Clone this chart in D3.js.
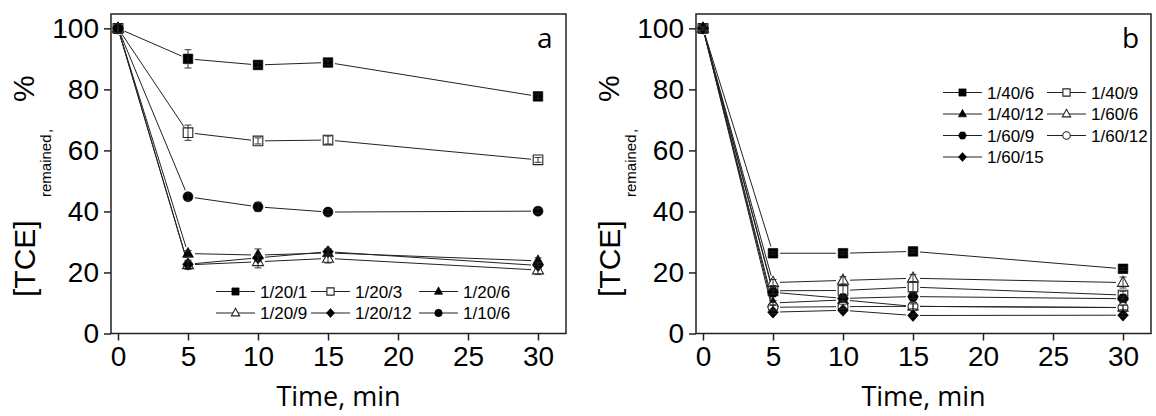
<!DOCTYPE html>
<html>
<head>
<meta charset="utf-8">
<script src="https://cdn.jsdelivr.net/npm/d3@7/dist/d3.min.js"></script>
<style>
  body { margin: 0; background: #fff; }
  svg { display: block; }
</style>
</head>
<body>
<svg id="chart" width="1156" height="416"></svg>
<script>
// shared axes
const times = [0, 5, 10, 15, 30];
const xTicks = [0, 5, 10, 15, 20, 25, 30];
const yTicks = [0, 20, 40, 60, 80, 100];

// panel a series
const labelsA = ["1/20/1", "1/20/3", "1/20/6", "1/20/9", "1/20/12", "1/10/6"];
const a_1_20_1 = [100, 90.0, 88.0, 88.8, 77.7];
const a_1_20_3 = [100, 65.8, 63.1, 63.4, 56.9];
const a_1_20_6 = [100, 26.2, 25.7, 26.4, 23.8];
const a_1_20_9 = [100, 22.5, 23.5, 24.6, 20.8];
const a_1_20_12 = [100, 22.7, 24.8, 26.8, 22.3];
const a_1_10_6 = [100, 44.8, 41.5, 39.8, 40.1];
const errA_1_20_1 = [1.5, 3.0, 0.8, 0.8, 0.8];
const errA_1_20_3 = [1.5, 2.5, 1.0, 1.3, 0.8];
const errA_1_20_6 = [1.5, 1.0, 2.0, 1.0, 1.0];
const errA_1_20_9 = [1.5, 1.5, 2.0, 1.5, 1.5];
const errA_1_20_12 = [1.5, 1.0, 1.0, 1.0, 1.0];
const errA_1_10_6 = [1.5, 1.2, 1.5, 0.8, 0.8];

// panel b series
const labelsB = ["1/40/6", "1/40/9", "1/40/12", "1/60/6", "1/60/9", "1/60/12", "1/60/15"];
const b_1_40_6 = [100, 26.3, 26.3, 26.9, 21.2];
const b_1_40_9 = [100, 14.0, 14.1, 15.2, 12.6];
const b_1_40_12 = [100, 10.0, 11.0, 8.9, 8.5];
const b_1_60_6 = [100, 16.7, 17.4, 18.1, 16.7];
const b_1_60_9 = [100, 13.5, 11.5, 12.1, 11.4];
const b_1_60_12 = [100, 8.6, 8.8, 8.9, 8.5];
const b_1_60_15 = [100, 7.0, 7.6, 5.9, 6.0];
const errB_1_40_6 = [0.5, 0.5, 0.5, 0.5, 0.5];
const errB_1_40_9 = [0.5, 1.0, 1.8, 1.8, 1.2];
const errB_1_40_12 = [0.5, 0.8, 0.8, 0.8, 0.8];
const errB_1_60_6 = [0.5, 1.0, 1.2, 1.2, 1.8];
const errB_1_60_9 = [0.5, 0.8, 0.8, 0.8, 0.8];
const errB_1_60_12 = [0.5, 0.8, 0.8, 1.2, 0.8];
const errB_1_60_15 = [0.5, 0.5, 0.5, 0.5, 0.5];

const seriesA = [
  { label: labelsA[0], values: a_1_20_1, err: errA_1_20_1, marker: "square", open: false },
  { label: labelsA[1], values: a_1_20_3, err: errA_1_20_3, marker: "square", open: true },
  { label: labelsA[2], values: a_1_20_6, err: errA_1_20_6, marker: "triangle", open: false },
  { label: labelsA[3], values: a_1_20_9, err: errA_1_20_9, marker: "triangle", open: true },
  { label: labelsA[4], values: a_1_20_12, err: errA_1_20_12, marker: "diamond", open: false },
  { label: labelsA[5], values: a_1_10_6, err: errA_1_10_6, marker: "circle", open: false }
];
const seriesB = [
  { label: labelsB[0], values: b_1_40_6, err: errB_1_40_6, marker: "square", open: false },
  { label: labelsB[1], values: b_1_40_9, err: errB_1_40_9, marker: "square", open: true },
  { label: labelsB[2], values: b_1_40_12, err: errB_1_40_12, marker: "triangle", open: false },
  { label: labelsB[3], values: b_1_60_6, err: errB_1_60_6, marker: "triangle", open: true },
  { label: labelsB[4], values: b_1_60_9, err: errB_1_60_9, marker: "hexagon", open: false },
  { label: labelsB[5], values: b_1_60_12, err: errB_1_60_12, marker: "circle", open: true },
  { label: labelsB[6], values: b_1_60_15, err: errB_1_60_15, marker: "diamond", open: false }
];

const svg = d3.select("#chart");
const axisFont = "'Liberation Sans', Arial, sans-serif";
const titleFont = "'Open Sans', 'DejaVu Sans', sans-serif";
const plotTop = 14, plotBottom = 333.5;

function markerPath(kind, s) {
  const p = d3.path();
  if (kind === "square") {
    const h = 4.8 * s;
    p.rect(-h, -h, 2 * h, 2 * h);
  } else if (kind === "triangle") {
    p.moveTo(0, -6.2 * s); p.lineTo(5.5 * s, 3.8 * s); p.lineTo(-5.5 * s, 3.8 * s); p.closePath();
  } else if (kind === "diamond") {
    p.moveTo(0, -6 * s); p.lineTo(5.4 * s, 0); p.lineTo(0, 6 * s); p.lineTo(-5.4 * s, 0); p.closePath();
  } else if (kind === "circle") {
    p.arc(0, 0, 5 * s, 0, 2 * Math.PI);
  } else if (kind === "hexagon") {
    const r = 5.4 * s;
    for (let i = 0; i < 6; i++) {
      const a = Math.PI / 3 * i;
      if (i === 0) p.moveTo(r * Math.cos(a), r * Math.sin(a));
      else p.lineTo(r * Math.cos(a), r * Math.sin(a));
    }
    p.closePath();
  }
  return p.toString();
}

function drawMarker(g, d, x, y, s) {
  g.append("path")
    .attr("d", markerPath(d.marker, s))
    .attr("transform", "translate(" + x + "," + y + ")")
    .attr("fill", d.open ? "#fff" : "#000")
    .attr("stroke", d.open ? "#222" : "#000")
    .attr("stroke-width", d.open ? 1.1 : 0.6);
}

function drawPanel(left, right, series, letter, legendCols, legendRows, legendTop) {
  const x = d3.scaleLinear().domain([-0.5, 32]).range([left, right]);
  const y = d3.scaleLinear().domain([0, 104.7]).range([plotBottom, plotTop]);
  const g = svg.append("g");

  // frame
  g.append("rect")
    .attr("x", left).attr("y", plotTop)
    .attr("width", right - left).attr("height", plotBottom - plotTop)
    .attr("fill", "none").attr("stroke", "#222").attr("stroke-width", 1.5);

  // x axis
  const xa = g.append("g")
    .attr("transform", "translate(0," + plotBottom + ")")
    .call(d3.axisBottom(x).tickValues(xTicks).tickSize(7).tickPadding(6).tickFormat(d3.format("d")));
  xa.select(".domain").remove();
  xa.selectAll("line").attr("stroke", "#222").attr("stroke-width", 1.5);
  xa.selectAll("text").attr("font-family", axisFont).attr("font-size", 28).attr("fill", "#000");

  // y axis
  const ya = g.append("g")
    .attr("transform", "translate(" + left + ",0)")
    .call(d3.axisLeft(y).tickValues(yTicks).tickSize(7).tickPadding(5).tickFormat(d3.format("d")));
  ya.select(".domain").remove();
  ya.selectAll("line").attr("stroke", "#222").attr("stroke-width", 1.5);
  ya.selectAll("text").attr("font-family", axisFont).attr("font-size", 28).attr("fill", "#000");

  // lines, trimmed near markers
  const gap = 7;
  series.forEach(d => {
    const pts = times.map((t, i) => [x(t), y(d.values[i])]);
    for (let i = 0; i < pts.length - 1; i++) {
      const [x1, y1] = pts[i], [x2, y2] = pts[i + 1];
      const len = Math.hypot(x2 - x1, y2 - y1);
      if (len <= 2 * gap) continue;
      const ux = (x2 - x1) / len, uy = (y2 - y1) / len;
      g.append("line")
        .attr("x1", x1 + ux * gap).attr("y1", y1 + uy * gap)
        .attr("x2", x2 - ux * gap).attr("y2", y2 - uy * gap)
        .attr("stroke", "#222").attr("stroke-width", 1);
    }
  });

  // markers and error bars
  series.forEach(d => {
    times.forEach((t, i) => {
      drawMarker(g, d, x(t), y(d.values[i]), 1);
    });
  });
  series.forEach(d => {
    times.forEach((t, i) => {
      const cx = x(t), y0 = y(d.values[i] - d.err[i]), y1 = y(d.values[i] + d.err[i]);
      g.append("path")
        .attr("d", "M" + cx + "," + y0 + "V" + y1 + "M" + (cx - 3.5) + "," + y0 + "h7M" + (cx - 3.5) + "," + y1 + "h7")
        .attr("fill", "none").attr("stroke", "#222").attr("stroke-width", 0.9);
    });
  });

  // legend
  series.forEach((d, i) => {
    const col = i % legendCols.length, row = Math.floor(i / legendCols.length);
    const lx = legendCols[col], ly = legendTop + row * legendRows;
    g.append("line").attr("x1", lx).attr("x2", lx + 39).attr("y1", ly).attr("y2", ly)
      .attr("stroke", "#222").attr("stroke-width", 1);
    drawMarker(g, d, lx + 19.5, ly, 0.75);
    g.append("text").attr("x", lx + 44).attr("y", ly + 6)
      .attr("font-family", axisFont).attr("font-size", 17).attr("fill", "#000")
      .text(d.label);
  });

  // panel letter
  g.append("text").attr("x", right - 29).attr("y", 48)
    .attr("font-family", titleFont).attr("font-size", 28).attr("fill", "#000")
    .text(letter);

  // x title
  g.append("text").attr("x", (left + right) / 2).attr("y", 406)
    .attr("text-anchor", "middle")
    .attr("font-family", titleFont).attr("font-size", 27).attr("fill", "#000")
    .text("Time, min");

  // y title, rotated pieces
  const yl = g.append("g").attr("transform", "rotate(-90)")
    .attr("font-family", axisFont).attr("fill", "#000");
  const bx = left - 76;
  yl.append("text").attr("x", -297).attr("y", bx).attr("font-size", 30).text("[TCE]");
  yl.append("text").attr("x", -197).attr("y", bx + 15.5).attr("font-size", 15).text("remained");
  yl.append("text").attr("x", -133).attr("y", bx + 15.5).attr("font-size", 15).text(",");
  yl.append("text").attr("x", -102).attr("y", bx - 1).attr("font-size", 30).text("%");
}

drawPanel(111, 566, seriesA, "a", [216, 311, 419], 21.5, 291.5);
drawPanel(696, 1151, seriesB, "b", [943, 1047], 21.5, 92.5);
</script>
</body>
</html>
